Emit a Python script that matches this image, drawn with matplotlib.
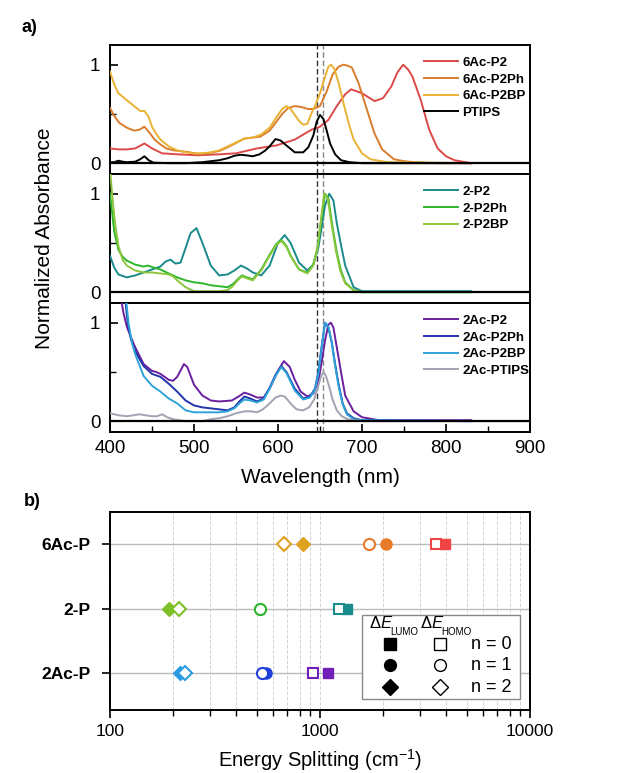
import matplotlib
matplotlib.use("Agg")
import matplotlib.pyplot as plt
from matplotlib.patches import Rectangle
from matplotlib.ticker import MultipleLocator, LogLocator, NullFormatter, FixedLocator

plt.rcParams['font.family'] = ['Liberation Sans', 'DejaVu Sans']
plt.rcParams['mathtext.fontset'] = 'custom'
plt.rcParams['mathtext.rm'] = 'Liberation Sans'
plt.rcParams['mathtext.it'] = 'Liberation Sans:italic'

# ---------------- data: panel a (spectra) ----------------
wl_6Ac_P2 = [400,410,420,430,441,450,462,480,504,530,550,575,598,620,640,650,660,670,680,687,700,715,725,735,742,749,755,760,770,780,790,800,810,830]
ab_6Ac_P2 = [0.15,0.14,0.14,0.15,0.2,0.15,0.1,0.09,0.08,0.09,0.10,0.15,0.18,0.24,0.34,0.37,0.44,0.58,0.70,0.75,0.71,0.63,0.66,0.78,0.92,1.0,0.95,0.88,0.64,0.34,0.15,0.07,0.03,0.0]

wl_6Ac_P2Ph = [400,405,411,420,429,435,441,447,453,460,467,476,486,495,504,515,523,532,542,551,560,570,579,590,598,605,612,620,628,636,642,650,658,665,672,678,683,688,696,706,715,724,738,750,762,790,830]
ab_6Ac_P2Ph = [0.56,0.48,0.41,0.36,0.33,0.34,0.37,0.31,0.24,0.19,0.15,0.13,0.12,0.11,0.095,0.10,0.11,0.13,0.17,0.21,0.25,0.26,0.27,0.33,0.42,0.50,0.56,0.58,0.57,0.55,0.55,0.58,0.73,0.90,0.98,1.0,0.99,0.97,0.81,0.54,0.30,0.14,0.04,0.02,0.01,0.0,0.0]

wl_6Ac_P2BP = [400,405,410,420,430,436,441,446,450,455,460,470,480,490,500,510,520,530,540,550,560,570,580,590,600,605,610,615,620,625,630,635,640,645,650,655,660,663,667,672,680,685,690,700,710,730,830]
ab_6Ac_P2BP = [0.93,0.80,0.71,0.64,0.57,0.53,0.53,0.47,0.37,0.30,0.24,0.17,0.13,0.11,0.10,0.10,0.11,0.13,0.17,0.21,0.25,0.26,0.29,0.36,0.49,0.55,0.58,0.55,0.49,0.43,0.39,0.40,0.51,0.60,0.71,0.85,0.98,1.0,0.96,0.82,0.54,0.38,0.24,0.10,0.04,0.01,0.0]

wl_PTIPS = [400,405,410,415,420,430,436,441,446,452,470,490,510,520,530,540,548,555,562,570,578,585,590,597,603,610,620,630,636,642,646,650,654,658,662,668,675,685,700,830]
ab_PTIPS = [0.01,0.01,0.025,0.015,0.01,0.015,0.04,0.07,0.03,0.005,0.0,0.0,0.01,0.02,0.03,0.05,0.075,0.085,0.08,0.07,0.09,0.13,0.17,0.245,0.23,0.18,0.11,0.11,0.16,0.28,0.42,0.49,0.45,0.33,0.2,0.09,0.03,0.01,0.0,0.0]

wl_2_P2 = [400,405,410,420,430,440,450,460,466,472,478,484,490,496,503,510,520,530,540,548,556,563,570,580,590,600,608,615,625,635,642,648,652,656,661,666,670,675,680,690,700,830]
ab_2_P2 = [0.37,0.25,0.18,0.15,0.17,0.2,0.23,0.26,0.31,0.33,0.29,0.30,0.45,0.6,0.65,0.5,0.27,0.17,0.18,0.22,0.27,0.24,0.2,0.17,0.27,0.5,0.58,0.5,0.3,0.22,0.28,0.45,0.66,0.88,1.0,0.93,0.7,0.48,0.27,0.05,0.01,0.01]

wl_2_P2Ph = [400,402,405,410,415,420,430,440,445,452,460,470,480,490,500,510,520,530,540,546,552,557,563,570,580,590,598,604,610,615,625,635,642,647,651,656,660,665,670,675,680,690,700,830]
ab_2_P2Ph = [1.0,0.85,0.62,0.43,0.36,0.32,0.28,0.26,0.27,0.25,0.23,0.19,0.15,0.12,0.10,0.09,0.07,0.06,0.05,0.08,0.13,0.17,0.15,0.13,0.23,0.38,0.49,0.53,0.47,0.37,0.23,0.2,0.28,0.45,0.71,1.0,0.95,0.66,0.4,0.22,0.1,0.02,0.0,0.0]

wl_2_P2BP = [400,403,406,410,415,420,430,440,450,460,470,475,480,490,500,510,520,530,540,546,552,557,563,570,580,590,598,604,610,615,625,635,642,647,651,655,659,664,669,674,680,690,700,830]
ab_2_P2BP = [1.25,0.95,0.7,0.47,0.33,0.27,0.22,0.2,0.2,0.19,0.18,0.16,0.12,0.05,0.01,0.01,0.01,0.01,0.02,0.06,0.12,0.16,0.14,0.12,0.22,0.37,0.48,0.52,0.46,0.37,0.23,0.19,0.27,0.45,0.72,1.0,0.96,0.68,0.42,0.22,0.09,0.02,0.0,0.0]

wl_2Ac_P2 = [413,416,420,425,430,440,450,455,460,465,470,475,480,485,488,492,496,500,510,520,530,545,553,560,567,575,583,590,600,607,614,620,627,635,642,648,652,656,660,663,666,670,675,680,690,700,720,830]
ab_2Ac_P2 = [1.25,1.1,0.96,0.85,0.75,0.58,0.51,0.5,0.48,0.45,0.42,0.41,0.45,0.53,0.58,0.55,0.46,0.37,0.26,0.21,0.2,0.21,0.25,0.29,0.27,0.24,0.24,0.33,0.51,0.61,0.55,0.42,0.3,0.25,0.28,0.4,0.6,0.82,0.98,1.0,0.95,0.75,0.5,0.26,0.1,0.04,0.01,0.01]

wl_2Ac_P2Ph = [418,421,425,430,440,450,460,470,480,490,500,510,520,530,540,548,554,560,567,575,583,590,597,604,610,620,630,638,644,648,652,656,660,664,668,672,677,682,690,700,830]
ab_2Ac_P2Ph = [1.25,1.0,0.83,0.71,0.56,0.48,0.45,0.38,0.3,0.21,0.16,0.14,0.13,0.12,0.11,0.14,0.2,0.25,0.23,0.2,0.23,0.34,0.47,0.56,0.5,0.33,0.23,0.25,0.33,0.5,0.76,1.0,0.95,0.8,0.58,0.38,0.18,0.08,0.03,0.01,0.0]

wl_2Ac_P2BP = [419,422,426,430,440,450,460,470,480,490,500,510,520,530,540,548,554,560,567,575,583,590,597,604,610,620,630,638,644,648,652,656,660,664,668,672,677,682,690,700,830]
ab_2Ac_P2BP = [1.25,1.0,0.8,0.68,0.46,0.36,0.3,0.23,0.18,0.11,0.09,0.09,0.09,0.09,0.1,0.13,0.18,0.22,0.21,0.19,0.22,0.33,0.46,0.55,0.49,0.31,0.22,0.24,0.32,0.48,0.75,1.0,0.96,0.8,0.56,0.36,0.17,0.07,0.02,0.01,0.0]

wl_2Ac_PTIPS = [400,410,420,428,435,442,450,456,462,468,475,482,490,500,510,520,530,540,550,560,568,575,582,590,597,603,608,615,622,630,637,643,648,651,654,657,661,665,670,676,683,690,700,800,900]
ab_2Ac_PTIPS = [0.08,0.06,0.05,0.06,0.07,0.06,0.05,0.05,0.07,0.04,0.02,0.01,0.0,0.0,0.0,0.02,0.03,0.05,0.08,0.1,0.1,0.09,0.12,0.18,0.24,0.26,0.25,0.18,0.12,0.11,0.14,0.22,0.36,0.45,0.5,0.46,0.35,0.22,0.11,0.05,0.02,0.01,0.0,0.0,0.0]

dash_lines = [646, 654]

panels = [
    [("6Ac-P2", wl_6Ac_P2, ab_6Ac_P2, '#dc4a48'),
     ("6Ac-P2Ph", wl_6Ac_P2Ph, ab_6Ac_P2Ph, '#d97d2c'),
     ("6Ac-P2BP", wl_6Ac_P2BP, ab_6Ac_P2BP, '#e9b233'),
     ("PTIPS", wl_PTIPS, ab_PTIPS, '#000000')],
    [("2-P2", wl_2_P2, ab_2_P2, '#1b8a8c'),
     ("2-P2Ph", wl_2_P2Ph, ab_2_P2Ph, '#2db52d'),
     ("2-P2BP", wl_2_P2BP, ab_2_P2BP, '#8cc63c')],
    [("2Ac-P2", wl_2Ac_P2, ab_2Ac_P2, '#6a1f9e'),
     ("2Ac-P2Ph", wl_2Ac_P2Ph, ab_2Ac_P2Ph, '#2233a8'),
     ("2Ac-P2BP", wl_2Ac_P2BP, ab_2Ac_P2BP, '#2ea3d8'),
     ("2Ac-PTIPS", wl_2Ac_PTIPS, ab_2Ac_PTIPS, '#a2a2b2')],
]

# ---------------- data: panel b (energy splitting) ----------------
categories = ["2Ac-P", "2-P", "6Ac-P"]
lumo_n0 = [1086, 1346, 3955]
homo_n0 = [925, 1236, 3550]
lumo_n1 = [556, 517, 2071]
homo_n1 = [528, 517, 1706]
lumo_n2 = [215, 191, 830]
homo_n2 = [227, 213, 675]
col_n0 = ['#7020b8', '#1a8c8c', '#f04444']
col_n1 = ['#1f3fd8', '#2fb52f', '#e87a2a']
col_n2 = ['#2a9be0', '#7ec02a', '#e0a020']

# ---------------- figure ----------------
W, H = 618, 773
fig = plt.figure(figsize=(W / 100, H / 100), dpi=100)

def fx(px):
    return px / W

def fy(py):
    return 1 - py / H

left, right = 110, 530
tops = [45, 174, 303]
ph = 129
axes = []
for i, top in enumerate(tops):
    ax = fig.add_axes([fx(left), fy(top + ph), fx(right - left), ph / H])
    axes.append(ax)
    for lab, wl, ab, col in panels[i]:
        ax.plot(wl, ab, color=col, lw=1.4, label=lab, zorder=3)
    ax.axhline(0, color='black', lw=1.6, zorder=4)
    ax.axvline(dash_lines[0], color='#333333', lw=1.0, ls=(0, (4, 2)), zorder=2)
    ax.axvline(dash_lines[1], color='#888888', lw=1.0, ls=(0, (4, 2)), zorder=2)
    ax.set_xlim(400, 900)
    ax.set_ylim(-0.11, 1.2)
    ax.yaxis.set_major_locator(FixedLocator([0, 1]))
    ax.yaxis.set_minor_locator(FixedLocator([0.5]))
    ax.set_yticklabels(['0', '1'])
    ax.tick_params(axis='y', which='major', direction='in', length=6, width=1.2,
                   labelsize=13.5, pad=7)
    ax.tick_params(axis='y', which='minor', direction='in', length=4, width=1.0)
    for s in ax.spines.values():
        s.set_linewidth(1.4)
    if i < 2:
        ax.set_xticks([])
    else:
        ax.xaxis.set_major_locator(MultipleLocator(100))
        ax.xaxis.set_minor_locator(MultipleLocator(50))
        ax.tick_params(axis='x', which='major', direction='in', length=6, width=1.2,
                       labelsize=13.5, pad=6)
        ax.tick_params(axis='x', which='minor', direction='in', length=4, width=1.0)
        ax.set_xlabel('Wavelength (nm)', fontsize=15, labelpad=8)
    ax.legend(loc='upper left', bbox_to_anchor=(0.735, 0.95), frameon=False,
              handlelength=2.6, handletextpad=0.3, labelspacing=0.33,
              borderaxespad=0.0,
              prop={'family': ['Liberation Sans Narrow', 'Liberation Sans'],
                    'weight': 'bold', 'size': 9.5})

fig.text(fx(45), fy(238), 'Normalized Absorbance', rotation=90, fontsize=15,
         ha='center', va='center')
fig.text(fx(22), fy(28), 'a)', fontsize=13, fontweight='bold', ha='left', va='center')
fig.text(fx(24), fy(502), 'b)', fontsize=13, fontweight='bold', ha='left', va='center')

# ---------------- panel b ----------------
btop, bbot = 512, 710
axb = fig.add_axes([fx(left), fy(bbot), fx(right - left), (bbot - btop) / H])
axb.set_xscale('log')
axb.set_xlim(100, 10000)
axb.set_ylim(-0.57, 2.5)
ypos = list(range(len(categories)))
axb.set_yticks(ypos)
axb.set_yticklabels(categories, fontsize=12.5, fontweight='bold')
axb.xaxis.set_major_locator(LogLocator(base=10))
axb.xaxis.set_minor_locator(LogLocator(base=10, subs=range(2, 10)))
axb.xaxis.set_minor_formatter(NullFormatter())
axb.tick_params(axis='x', which='major', direction='out', length=6, width=1.2,
                labelsize=12.5, pad=4)
axb.tick_params(axis='x', which='minor', direction='out', length=4, width=1.0)
axb.tick_params(axis='y', direction='out', length=6, width=1.2, pad=8)
axb.xaxis.set_major_formatter(plt.FuncFormatter(lambda v, p: f'{int(round(v))}'))
axb.grid(True, which='both', axis='x', ls='--', color='#d4d4d4', lw=0.7)
axb.grid(True, which='major', axis='y', ls='-', color='#bbbbbb', lw=1.0)
axb.set_axisbelow(True)
for s in axb.spines.values():
    s.set_linewidth(1.4)
axb.set_xlabel('Energy Splitting (cm$^{-1}$)', fontsize=14.5, labelpad=6)

for k in range(len(categories)):
    y = ypos[k]
    axb.plot(lumo_n2[k], y, marker='D', ms=7.5, color=col_n2[k], mec=col_n2[k], ls='none', zorder=3)
    axb.plot(homo_n2[k], y, marker='D', ms=7.5, mfc='white', mec=col_n2[k], mew=1.5, ls='none', zorder=4)
    axb.plot(lumo_n1[k], y, marker='o', ms=8, color=col_n1[k], mec=col_n1[k], ls='none', zorder=3)
    axb.plot(homo_n1[k], y, marker='o', ms=8, mfc='white', mec=col_n1[k], mew=1.5, ls='none', zorder=4)
    axb.plot(lumo_n0[k], y, marker='s', ms=7.5, color=col_n0[k], mec=col_n0[k], ls='none', zorder=3)
    axb.plot(homo_n0[k], y, marker='s', ms=7.5, mfc='white', mec=col_n0[k], mew=1.5, ls='none', zorder=4)

# custom legend
lx0, lx1, ly0, ly1 = 0.60, 0.976, 0.056, 0.48
axb.add_patch(Rectangle((lx0, ly0), lx1 - lx0, ly1 - ly0, transform=axb.transAxes,
                        facecolor='white', edgecolor='#888888', lw=1.0, zorder=10))
for x0, sub in [(0.617, 'LUMO'), (0.738, 'HOMO')]:
    axb.text(x0, 0.415, r'$\Delta\mathit{E}$', transform=axb.transAxes,
             fontsize=12, ha='left', va='baseline', zorder=11)
    axb.text(x0 + 0.05, 0.38, sub, transform=axb.transAxes,
             fontsize=7, ha='left', va='baseline', zorder=11)
rows_y = [0.333, 0.227, 0.116]
mk = ['s', 'o', 'D']
mks = [8, 8.5, 8]
for r in range(3):
    axb.plot([0.667], [rows_y[r]], marker=mk[r], ms=mks[r], color='black',
             transform=axb.transAxes, ls='none', zorder=11, clip_on=False)
    axb.plot([0.786], [rows_y[r]], marker=mk[r], ms=mks[r], mfc='white', mec='black',
             mew=1.0, transform=axb.transAxes, ls='none', zorder=11, clip_on=False)
    axb.text(0.86, rows_y[r], f'n = {r}', transform=axb.transAxes, fontsize=13,
             ha='left', va='center', zorder=11)

fig.savefig('out.png', dpi=100)
